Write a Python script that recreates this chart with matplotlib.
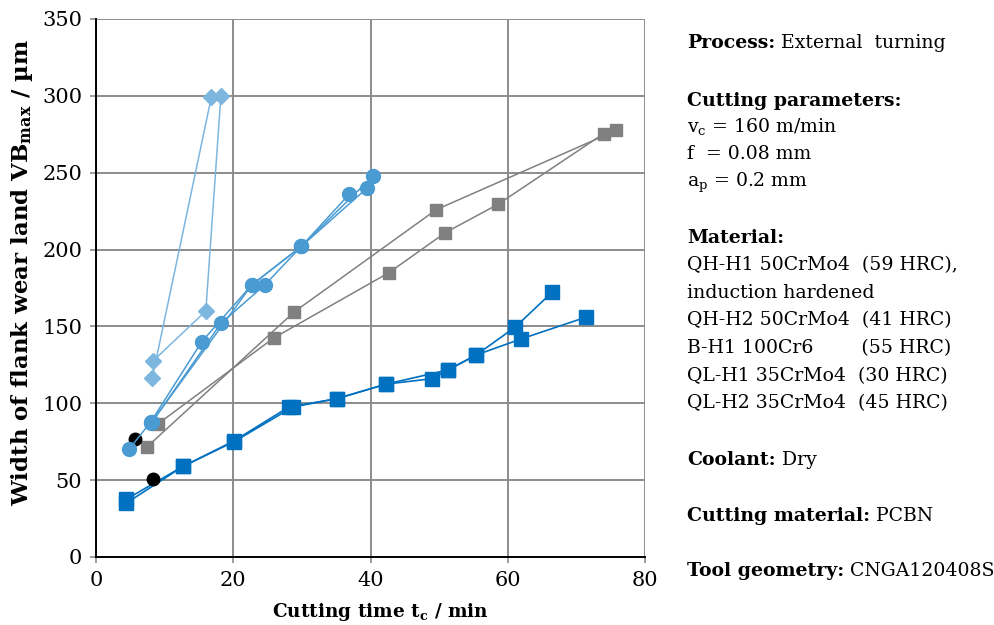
import matplotlib
matplotlib.use('Agg')
import matplotlib.pyplot as plt

plt.rcParams['font.family'] = 'DejaVu Serif'
plt.rcParams['mathtext.fontset'] = 'dejavuserif'

# QL-H1 / QL-H2 (dark blue squares)
ql1_t = [4.4, 12.7, 20.1, 28.1, 35.1, 42.3, 49.0, 51.3, 55.4, 61.1, 66.5]
ql1_vb = [37.5, 59, 75.5, 97.6, 103, 112.5, 116, 121.7, 131.4, 149.6, 172.4]
ql2_t = [4.4, 12.7, 20.1, 28.7, 35.1, 42.3, 51.3, 55.4, 61.9, 71.4]
ql2_vb = [35, 59, 75, 97.6, 103, 112.5, 121.7, 131.4, 141.8, 156]

# B-H1 (grey squares)
bh1_t = [7.4, 28.9, 49.6, 75.8]
bh1_vb = [71.5, 159.5, 226, 277.5]
bh2_t = [9.0, 25.9, 42.7, 50.9, 58.6, 74.0]
bh2_vb = [86.5, 142.5, 185, 211, 229.5, 275.5]

# QH-H2 (circles)
qh2a_t = [4.8, 8.0, 15.4, 22.7, 29.9, 36.9]
qh2a_vb = [70, 88, 140, 177, 202, 236]
qh2b_t = [8.2, 18.2, 24.6, 29.9, 39.5]
qh2b_vb = [88, 152, 177, 202, 240]
qh2c_t = [8.0, 22.7, 29.9, 40.4]
qh2c_vb = [87, 177, 202, 248]

# QH-H1 (diamonds)
qh1a_t = [8.2, 16.8]
qh1a_vb = [116.5, 299]
qh1b_t = [8.3, 16.0, 18.2]
qh1b_vb = [127.5, 160, 300]

# black markers
blk_t = [5.7, 8.3]
blk_vb = [77, 51]

x_ticks = [0, 20, 40, 60, 80]
y_ticks = [0, 50, 100, 150, 200, 250, 300, 350]

fig = plt.figure(figsize=(9.95, 6.25), dpi=100)
ax = fig.add_axes([96 / 995, 1 - 557 / 625, 549 / 995, 538 / 625])

c_dark = '#0070C0'
c_mid = '#4A9BD2'
c_light = '#7DB6DE'
c_grey = '#808080'

for t, vb in [(ql1_t, ql1_vb), (ql2_t, ql2_vb)]:
    ax.plot(t, vb, color=c_dark, lw=1.2, marker='s', ms=9.5, zorder=3)
ax.plot(blk_t, blk_vb, ls='none', marker='o', color='black', ms=9, zorder=3.5)
for t, vb in [(bh1_t, bh1_vb), (bh2_t, bh2_vb)]:
    ax.plot(t, vb, color=c_grey, lw=1.1, marker='s', ms=9, zorder=3.2)
for t, vb in [(qh2a_t, qh2a_vb), (qh2b_t, qh2b_vb), (qh2c_t, qh2c_vb)]:
    ax.plot(t, vb, color=c_mid, lw=1.1, marker='o', ms=10, zorder=4)
for t, vb in [(qh1a_t, qh1a_vb), (qh1b_t, qh1b_vb)]:
    ax.plot(t, vb, color=c_light, lw=1.1, marker='D', ms=8.5, zorder=4.2)

ax.set_xlim(0, 80)
ax.set_ylim(0, 350)
ax.set_xticks(x_ticks)
ax.set_yticks(y_ticks)
ax.grid(True, color='#8c8c8c', lw=1.4)
ax.set_axisbelow(True)
for s in ['top', 'right']:
    ax.spines[s].set_visible(False)
for s in ['left', 'bottom']:
    ax.spines[s].set_color('black')
    ax.spines[s].set_linewidth(1.4)
ax.tick_params(axis='both', labelsize=15, length=4, width=1.2, color='#8c8c8c', pad=6)

fig.text(22 / 995, 1 - 272 / 625, r'Width of flank wear land VB$_\mathbf{max}$ / µm',
         rotation=90, ha='center', va='center', fontsize=16.5, fontweight='bold')
fig.text(380 / 995, 1 - 612 / 625, r'Cutting time t$_\mathbf{c}$ / min',
         ha='center', va='center', fontsize=13.3, fontweight='bold')

# right-hand info panel
fs = 13.6
x0 = 687 / 995
renderer = fig.canvas.get_renderer()


def line(y_px, bold='', normal=''):
    y = 1 - y_px / 625
    x = x0
    if bold:
        tb = fig.text(x, y, bold, fontsize=fs, fontweight='bold', va='baseline')
        bb = tb.get_window_extent(renderer)
        x = bb.x1 / fig.bbox.width + 6 / 995
    if normal:
        fig.text(x, y, normal, fontsize=fs, va='baseline')


line(48, 'Process:', 'External  turning')
line(106, 'Cutting parameters:')
line(132, '', r'v$_\mathrm{c}$ = 160 m/min')
line(159, '', 'f  = 0.08 mm')
line(187, '', r'a$_\mathrm{p}$ = 0.2 mm')
line(243, 'Material:')
line(270, '', 'QH-H1 50CrMo4  (59 HRC),')
line(298, '', 'induction hardened')
line(325, '', 'QH-H2 50CrMo4  (41 HRC)')
line(353, '', 'B-H1 100Cr6        (55 HRC)')
line(381, '', 'QL-H1 35CrMo4  (30 HRC)')
line(408, '', 'QL-H2 35CrMo4  (45 HRC)')
line(465, 'Coolant:', 'Dry')
line(521, 'Cutting material:', 'PCBN')
line(576, 'Tool geometry:', 'CNGA120408S')

fig.savefig('out.png', dpi=100)
